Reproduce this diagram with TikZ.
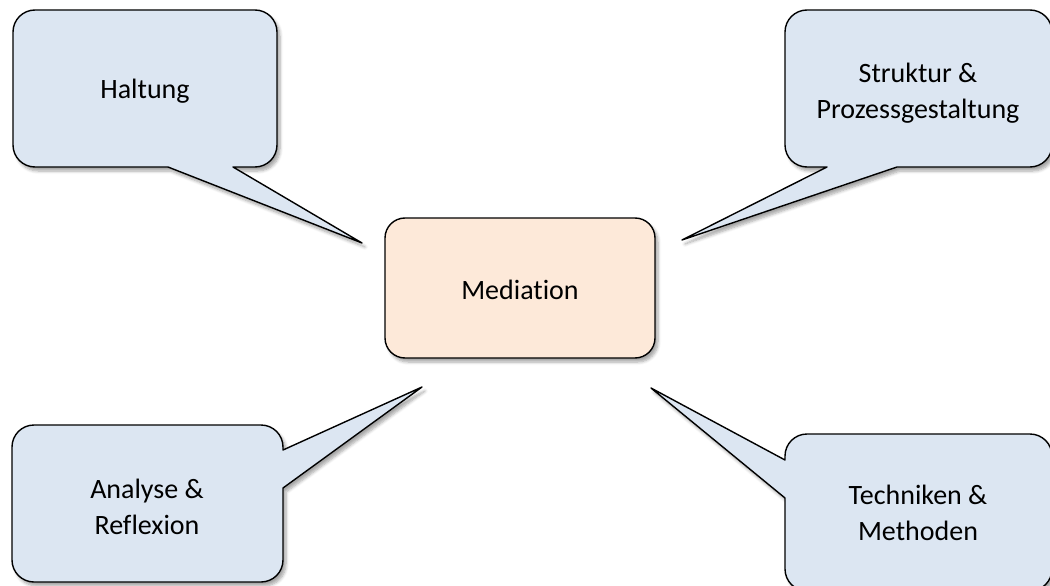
\documentclass[tikz,border=0pt]{standalone}
\usepackage{fontspec}
\setmainfont{Carlito}[Ligatures=NoCommon]
\usetikzlibrary{shadows.blur}
\definecolor{calloutblue}{RGB}{220,230,242}
\definecolor{medorange}{RGB}{253,233,217}
\tikzset{
  bubble/.style={fill=calloutblue, draw=black, line width=1.4pt, line join=round,
    blur shadow={shadow xshift=3pt, shadow yshift=-4pt, shadow opacity=35,
      shadow blur radius=3pt, shadow blur steps=6}},
  centerbox/.style={bubble, fill=medorange, rounded corners=20pt},
  bubbletext/.style={font=\fontsize{28}{36}\selectfont, align=center, text=black, inner sep=0pt},
}
\begin{document}
\begin{tikzpicture}[x=1pt,y=1pt]
\useasboundingbox (0,0) rectangle (1050,-586);
\clip (0,0) rectangle (1050,-586);

% Haltung callout
\path[bubble] (35,-10) -- (255,-10) arc[start angle=90,end angle=0,radius=22]
  -- (277,-145) arc[start angle=0,end angle=-90,radius=22]
  -- (233,-167) -- (362,-243) -- (168,-167)
  -- (35,-167) arc[start angle=270,end angle=180,radius=22]
  -- (13,-32) arc[start angle=180,end angle=90,radius=22] -- cycle;

% Struktur callout
\path[bubble] (807,-10) -- (1030,-10) arc[start angle=90,end angle=0,radius=22]
  -- (1052,-145) arc[start angle=0,end angle=-90,radius=22]
  -- (897,-167) -- (682,-240) -- (827,-167)
  -- (807,-167) arc[start angle=270,end angle=180,radius=22]
  -- (785,-32) arc[start angle=180,end angle=90,radius=22] -- cycle;

% Analyse callout
\path[bubble] (34,-425) -- (261,-425) arc[start angle=90,end angle=0,radius=22]
  -- (283,-450) -- (422,-387) -- (283,-488)
  -- (283,-560) arc[start angle=0,end angle=-90,radius=22]
  -- (34,-582) arc[start angle=270,end angle=180,radius=22]
  -- (12,-447) arc[start angle=180,end angle=90,radius=22] -- cycle;

% Techniken callout
\path[bubble] (807,-434) -- (1030,-434) arc[start angle=90,end angle=0,radius=22]
  -- (1052,-569) arc[start angle=0,end angle=-90,radius=22]
  -- (807,-591) arc[start angle=270,end angle=180,radius=22]
  -- (785,-498) -- (651,-388) -- (785,-460)
  -- (785,-456) arc[start angle=180,end angle=90,radius=22] -- cycle;

% Mediation centre box
\node[centerbox, minimum width=270pt, minimum height=140pt] (med) at (520,-288) {};
\node[bubbletext, anchor=base] (medtext) at (520,-299) {Mediation};

% Texts (base anchor = baseline of the last line)
\node[bubbletext, anchor=base] (haltung) at (145,-99) {Haltung};
\node[bubbletext, anchor=base] (struktur) at (918,-118) {Struktur \&\\Prozessgestaltung};
\node[bubbletext, anchor=base] (analyse) at (147,-534) {Analyse \&\\Reflexion};
\node[bubbletext, anchor=base] (techniken) at (918,-540) {Techniken \&\\Methoden};
\end{tikzpicture}
\end{document}
